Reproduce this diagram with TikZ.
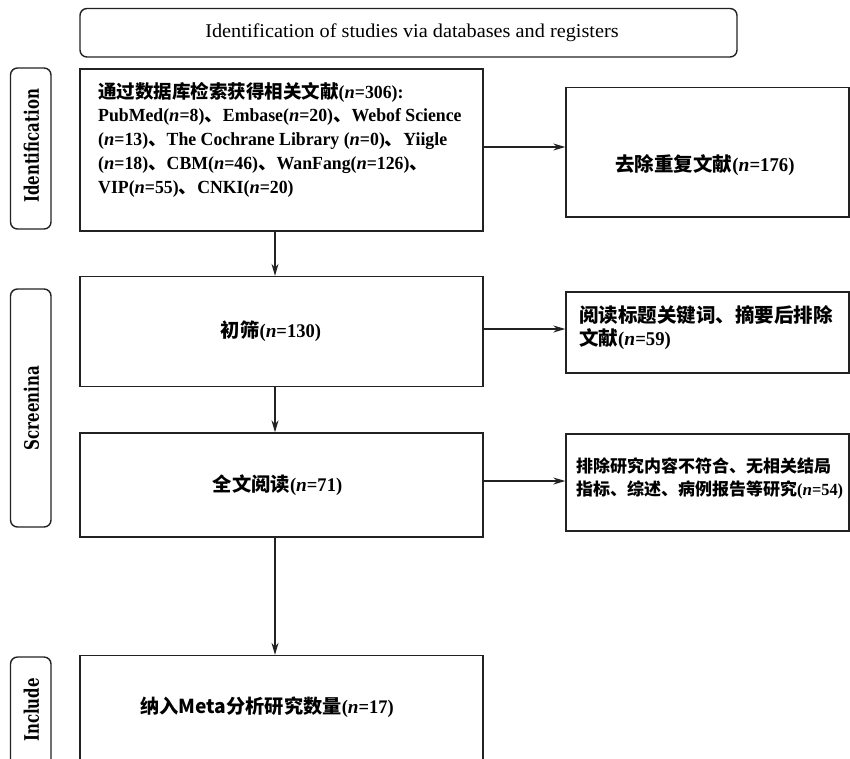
\documentclass[tikz,border=0pt]{standalone}
\usepackage{fontspec}
\usetikzlibrary{arrows.meta,fit,calc}
\setmainfont{Liberation Serif}[BoldFeatures={FakeStretch=0.96}]
\newfontfamily\cjk{Noto Sans CJK SC}
\newfontfamily\hdrfont{Liberation Serif}[FakeStretch=1.04]
\newfontfamily\labfont{DejaVu Serif}[BoldFeatures={FakeStretch=0.75}]
\newcommand\zh[1]{{\cjk\bfseries #1}}
\newcommand\nn{\textit{n}}
\definecolor{ln}{HTML}{222222}
\tikzset{
  box/.style={draw=ln, line width=1.4pt, inner sep=0pt, rectangle},
  rbox/.style={box, rounded corners=7pt},
  arr/.style={draw=ln, line width=1.2pt, -{Stealth[length=12pt,width=7pt]}},
  sz/.style={font=\bfseries\fontsize{#1}{23.7}\selectfont},
  labtxt/.style={rotate=90, font=\labfont\bfseries\fontsize{20}{22}\selectfont, inner sep=0pt},
  txt/.style={inner sep=0pt, align=left, text=black}
}
\begin{document}
\begin{tikzpicture}[x=1pt,y=-1pt]
\useasboundingbox (0,0) rectangle (850,758);
\clip (0,0) rectangle (850,758);
\fill[white] (0,0) rectangle (850,758);
% header
\node[rbox, fit={(80,8.5) (737,57)}] (hdr) {};
\node[txt, font=\hdrfont\fontsize{19.5}{22}\selectfont] (hdrt) at (412,33) {Identification of studies via databases and registers};
% side labels
\node[rbox, fit={(10.5,68) (51,229)}] (lab1) {};
\node[labtxt] (lab1t) at (31.5,146) {Identification};
\node[rbox, fit={(10.5,289) (51,527)}] (lab2) {};
\node[labtxt] (lab2t) at (31.5,408) {Screenina};
\node[rbox, fit={(10.5,657) (51,775)}] (lab3) {};
\node[labtxt] (lab3t) at (31.5,710) {Include};
% main boxes
\node[box, fit={(80,69) (483,231)}] (b1) {};
\node[box, fit={(80,276.5) (483,386.5)}] (b2) {};
\node[box, fit={(80,433) (483,537)}] (b3) {};
\node[box, fit={(80,655.5) (483,775)}] (b4) {};
% right boxes
\node[box, fit={(566,87.5) (849,217)}] (r1) {};
\node[box, fit={(566,292) (849,373)}] (r2) {};
\node[box, fit={(566,434) (849,531)}] (r3) {};
% texts
\node[txt, sz=18.5, anchor=north west] (b1t) at (98,82) {\zh{通过数据库检索获得相关文献}(\nn=306):\\
PubMed(\nn=8)\zh{、}Embase(\nn=20)\zh{、}Webof Science\\
(\nn=13)\zh{、}The Cochrane Library (\nn=0)\zh{、}Yiigle\\
(\nn=18)\zh{、}CBM(\nn=46)\zh{、}WanFang(\nn=126)\zh{、}\\
VIP(\nn=55)\zh{、}CNKI(\nn=20)};
\node[txt, sz=19.5] (r1t) at (705,165) {\zh{去除重复文献}(\nn=176)};
\node[txt, sz=19.3] (b2t) at (271,331) {\zh{初筛}(\nn=130)};
\node[txt, sz=19.5, anchor=north west] (r2t) at (579,305) {\zh{阅读标题关键词、摘要后排除}\\\zh{文献}(\nn=59)};
\node[txt, sz=19.3] (b3t) at (277.5,485) {\zh{全文阅读}(\nn=71)};
\node[txt, sz=17, anchor=north west] (r3t) at (576,457) {\zh{排除研究内容不符合、无相关结局}\\\zh{指标、综述、病例报告等研究}(\nn=54)};
\node[txt, sz=19.2] (b4t) at (267,707) {\zh{纳入Meta分析研究数量}(\nn=17)};
% connectors
\coordinate (e1) at ([yshift=3pt]b1.east);
\draw[arr] (e1) -- (e1 -| r1.west);
\coordinate (e2) at ([yshift=2.5pt]b2.east);
\draw[arr] (e2) -- (e2 -| r2.west);
\coordinate (e3) at ([yshift=4pt]b3.east);
\draw[arr] (e3) -- (e3 -| r3.west);
\coordinate (d1) at ([xshift=-6.5pt]b1.south);
\draw[arr] (d1) -- (d1 |- b2.north);
\coordinate (d2) at ([xshift=-6.5pt]b2.south);
\draw[arr] (d2) -- (d2 |- b3.north);
\coordinate (d3) at ([xshift=-6.5pt]b3.south);
\draw[arr] (d3) -- (d3 |- b4.north);
\end{tikzpicture}
\end{document}
